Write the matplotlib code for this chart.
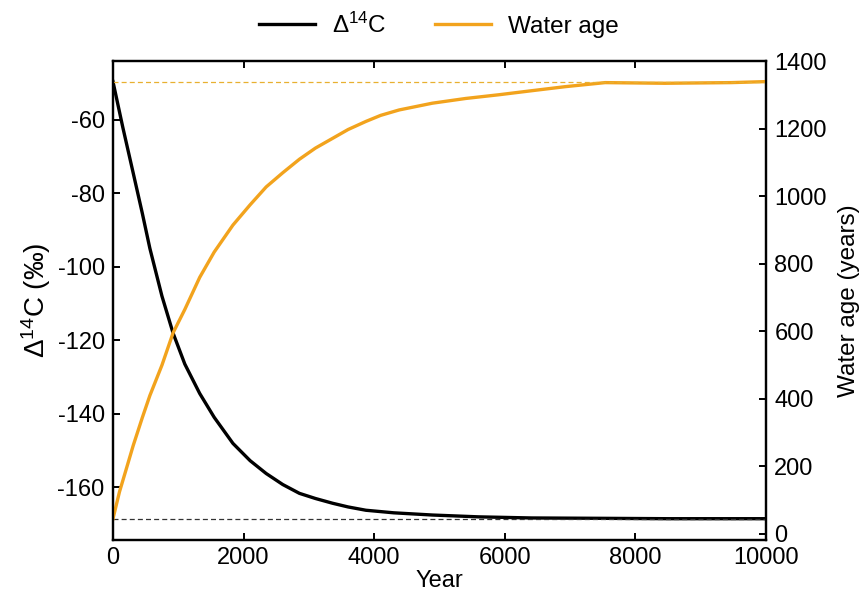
import numpy as np
import matplotlib.pyplot as plt

plt.rcParams['font.family'] = ['Liberation Sans', 'DejaVu Sans']
plt.rcParams['font.size'] = 17
plt.rcParams['axes.unicode_minus'] = False
plt.rcParams['mathtext.fontset'] = 'custom'
plt.rcParams['mathtext.rm'] = 'Liberation Sans'
plt.rcParams['mathtext.it'] = 'Liberation Sans'

# Delta14C (per mille) through the run
d14c_year = [0, 150, 310, 450, 565, 750, 921, 1100, 1328, 1550, 1837, 2100,
             2346, 2600, 2855, 3100, 3364, 3600, 3873, 4300, 4890, 5600,
             6410, 7500, 8500, 10000]
d14c_val = [-49.6, -62.0, -74.5, -85.5, -95.0, -108.0, -118.1, -126.5,
            -134.5, -141.0, -148.1, -152.8, -156.3, -159.3, -161.7, -163.1,
            -164.4, -165.4, -166.3, -167.0, -167.6, -168.1, -168.4, -168.5,
            -168.6, -168.6]

# water age (years) through the run
age_year = [0, 100, 200, 310, 450, 565, 750, 921, 1100, 1328, 1550, 1837,
            2100, 2346, 2600, 2855, 3100, 3364, 3600, 3873, 4100, 4382, 4890,
            5400, 5908, 6412, 6926, 7537, 8453, 9470, 10000]
age_val = [45, 125, 190, 262, 345, 410, 500, 596, 665, 760, 835, 915, 975,
           1028, 1070, 1110, 1143, 1172, 1198, 1222, 1240, 1256, 1276, 1290,
           1301, 1313, 1325, 1337, 1335, 1337, 1340]

d14c_eq = -168.6
age_eq = 1340

orange = '#F2A31D'

fig = plt.figure(figsize=(8.61, 6.01), dpi=100)
ax = fig.add_axes([0.1312, 0.1015, 0.7585, 0.797])
ax2 = ax.twinx()

ax.plot(d14c_year, d14c_val, color='black', lw=2.4, label=r'$\Delta^{14}$C')
ax.plot([0, 10000], [d14c_eq, d14c_eq], color='#333333', lw=0.9,
        ls=(0, (4, 2.5)))
ax2.plot(age_year, age_val, color=orange, lw=2.4, label='Water age')
ax2.plot([0, 10000], [age_eq, age_eq], color='#E8B030', lw=0.9,
         ls=(0, (4, 2.5)))

ax.set_xlim(0, 10000)
ax.set_ylim(-174.4, -44)
ax2.set_ylim(-17.8, 1401)
ax.set_xticks([0, 2000, 4000, 6000, 8000, 10000])
ax.set_yticks([-60, -80, -100, -120, -140, -160])
ax2.set_yticks([0, 200, 400, 600, 800, 1000, 1200, 1400])

ax.set_xlabel('Year', labelpad=1, fontsize=17)
ax.set_ylabel('$\\Delta^{14}$C (‰)', labelpad=3, fontsize=20)
ax2.set_ylabel('Water age (years)', labelpad=8, fontsize=17.5)

for a in (ax, ax2):
    for s in a.spines.values():
        s.set_linewidth(1.6)
ax.tick_params(axis='both', direction='in', length=5, width=1.4, pad=6,
               top=True, labelsize=17)
ax.tick_params(axis='x', pad=5)
ax.tick_params(axis='y', right=False)
ax2.tick_params(axis='y', direction='in', length=5, width=1.4, pad=6,
                labelsize=17)

h1, l1 = ax.get_legend_handles_labels()
h2, l2 = ax2.get_legend_handles_labels()
fig.legend(h1 + h2, l1 + l2, loc='center', bbox_to_anchor=(0.51, 0.958),
           ncol=2, frameon=False, handlelength=2.3, columnspacing=2.0,
           handletextpad=0.7, fontsize=17.5)

fig.savefig('out.png', dpi=100)
